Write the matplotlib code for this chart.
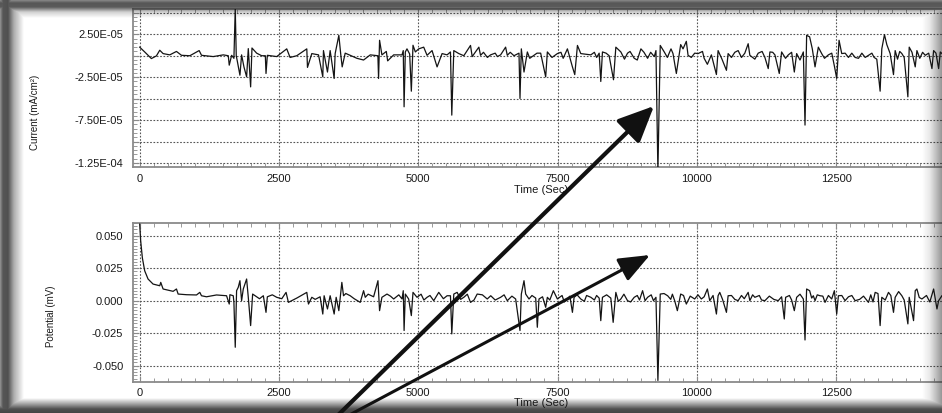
import numpy as np
import matplotlib
matplotlib.use("Agg")
import matplotlib.pyplot as plt
from matplotlib.ticker import MultipleLocator

plt.rcParams['font.family'] = ['Liberation Sans', 'DejaVu Sans']

# ---------------- data ----------------
# Current, in units of 1e-5 mA/cm^2
time_cur = [0, 90, 210, 300, 360, 420, 540, 660, 750, 900, 1067, 1110, 1320, 1500, 1590, 1607,
            1650, 1691, 1715, 1733, 1751, 1799, 1829, 1871, 1919, 1949, 1991, 2015, 2099, 2189,
            2255, 2267, 2291, 2459, 2639, 2699, 2819, 2999, 3011, 3089, 3209, 3286, 3298, 3370,
            3418, 3490, 3508, 3574, 3610, 3634, 3688, 3778, 3898, 4018, 4138, 4275, 4287, 4305,
            4347, 4426, 4450, 4558, 4708, 4730, 4745, 4767, 4797, 4845, 4875, 4905, 4947, 5007,
            5097, 5157, 5247, 5337, 5427, 5517, 5577, 5601, 5637, 5727, 5817, 5937, 5967, 6087,
            6117, 6170, 6240, 6297, 6380, 6420, 6477, 6567, 6597, 6650, 6717, 6807, 6825, 6849,
            6897, 6957, 7000, 7077, 7130, 7196, 7286, 7316, 7400, 7496, 7560, 7600, 7676, 7736,
            7766, 7808, 7856, 7916, 8096, 8160, 8200, 8246, 8275, 8305, 8370, 8425, 8503, 8545,
            8635, 8700, 8755, 8800, 8875, 8930, 8995, 9050, 9115, 9170, 9235, 9265, 9300, 9342,
            9414, 9470, 9535, 9571, 9631, 9709, 9751, 9810, 9841, 9900, 9960, 10021, 10100,
            10130, 10188, 10260, 10350, 10380, 10450, 10530, 10560, 10620, 10680, 10740, 10800,
            10860, 10920, 10950, 11040, 11100, 11170, 11220, 11280, 11310, 11360, 11400, 11478,
            11520, 11590, 11640, 11700, 11748, 11790, 11850, 11910, 11940, 11969, 12023, 12071,
            12120, 12179, 12239, 12290, 12359, 12420, 12467, 12509, 12551, 12599, 12660, 12720,
            12780, 12839, 12900, 12960, 13020, 13079, 13140, 13180, 13228, 13288, 13318, 13366,
            13408, 13468, 13528, 13558, 13600, 13640, 13678, 13720, 13786, 13810, 13860, 13918,
            13948, 14000, 14050, 14098, 14160, 14218, 14248, 14290, 14338, 14368, 14428, 14600,
            15000]
current_e5 = [1.0, 0.44, -0.33, -0.02, 0.64, 0.25, 0.1, 0.5, 0.05, 0.0, 0.6, 0.05, -0.1, 0.1, 0.0,
              -1.1, 0.05, -0.3, 5.5, 0.0, -0.6, -2.27, 0.1, -1.3, -2.46, 0.83, -3.63, 0.9, 0.3,
              0.0, 0.0, -2.07, 0.05, -0.1, 0.8, -0.2, 0.0, 0.8, -1.36, 0.25, 0.1, -2.46, 0.6,
              -1.9, 0.6, -2.65, 0.25, 2.38, 0.05, -1.3, 0.3, 0.05, -0.3, -0.5, 0.1, 0.0, -2.65,
              1.8, 0.1, 0.5, -0.6, 0.1, 0.1, 0.6, -5.95, 0.44, 0.8, 0.2, -4.13, 1.22, 0.44, 0.8,
              1.0, 0.05, 0.6, -1.3, 0.25, 0.1, 0.44, -6.92, 0.6, 0.25, 0.0, 1.2, -0.1, 1.0,
              0.05, 0.4, -0.2, 0.1, 0.3, -0.1, 0.1, 1.0, 0.05, 0.4, 0.0, 0.3, -4.98, 0.8,
              -1.9, 0.44, -0.3, 0.05, 0.3, 0.3, -2.46, 0.44, -0.2, 0.25, 0.4, -0.3, 0.8, -0.6,
              -1.3, -2.2, 1.2, 0.25, 0.1, 0.4, -0.2, 0.3, -3.0, 0.44, 0.3, 0.0, -2.8, 1.0,
              0.44, -0.4, 0.3, 0.5, -0.3, -0.5, 0.8, 0.4, -0.3, 0.4, -0.1, 0.6, -13.5, 1.2,
              0.44, -0.2, 0.8, 0.25, -2.07, 1.3, 0.8, 1.68, 0.05, -0.2, 0.3, 0.25, 0.5,
              -0.3, -1.0, 0.1, -2.19, 0.6, -0.4, -1.7, 0.25, -0.2, 0.4, 0.6, -0.2,
              0.3, 1.4, 0.05, -0.4, 0.3, 0.5, -0.2, -1.5, 0.44, 0.4, 0.1, -2.07,
              0.44, -0.3, 0.1, 0.4, -1.9, 0.25, -0.5, 0.44, -8.08, 2.38, 2.2, 0.8,
              -1.3, 1.0, 0.25, -0.3, 0.1, 0.3, -1.2, -2.65, 1.8, 0.25, 0.3, -0.2,
              0.3, -0.2, -0.3, 0.3, -0.2, 0.05, 0.3, -0.2, -0.4, -4.13, 0.8, 2.46,
              1.3, 0.25, -2.2, 0.6, -0.4, 0.5, 0.25, -0.2, -4.79, 1.0, 0.4, -1.3,
              0.6, -0.3, 0.4, 0.05, 0.3, -1.5, 0.6, 0.3, -1.5, 0.44, 0.05, 0.2,
              0.1]

# Potential, in units of 1e-3 mV
time_pot = [0, 18, 48, 90, 150, 240, 360, 378, 420, 600, 660, 690, 840, 1020, 1079, 1109, 1199,
            1379, 1559, 1607, 1619, 1679, 1691, 1715, 1739, 1769, 1799, 1829, 1859, 1919, 1949,
            1991, 2027, 2099, 2150, 2219, 2267, 2291, 2380, 2459, 2550, 2627, 2669, 2729, 2819,
            2900, 2999, 3029, 3089, 3150, 3238, 3286, 3310, 3370, 3418, 3490, 3526, 3574, 3628,
            3658, 3700, 3778, 3850, 3958, 4018, 4048, 4100, 4198, 4276, 4305, 4347, 4438, 4500,
            4558, 4650, 4708, 4730, 4745, 4767, 4827, 4875, 4905, 4977, 5050, 5100, 5157, 5210,
            5277, 5367, 5450, 5517, 5577, 5601, 5637, 5697, 5760, 5817, 5880, 5937, 6000, 6057,
            6150, 6237, 6300, 6380, 6477, 6540, 6597, 6680, 6747, 6825, 6849, 6897, 6927, 6987,
            7040, 7107, 7136, 7166, 7230, 7286, 7316, 7360, 7424, 7496, 7580, 7620, 7676, 7720,
            7766, 7796, 7850, 7916, 7980, 8020, 8096, 8160, 8200, 8246, 8275, 8305, 8380, 8455,
            8497, 8545, 8590, 8635, 8690, 8755, 8810, 8875, 8930, 8970, 9025, 9070, 9115, 9180,
            9220, 9265, 9300, 9342, 9410, 9475, 9530, 9560, 9601, 9649, 9709, 9760, 9810, 9880,
            9960, 10020, 10080, 10130, 10188, 10230, 10290, 10350, 10380, 10410, 10460, 10530,
            10560, 10620, 10680, 10740, 10800, 10850, 10920, 10950, 11000, 11040, 11120, 11160,
            11220, 11300, 11380, 11460, 11520, 11568, 11592, 11660, 11700, 11748, 11790, 11850,
            11910, 11940, 11969, 12023, 12060, 12089, 12120, 12160, 12209, 12260, 12299, 12360,
            12419, 12467, 12509, 12539, 12600, 12659, 12720, 12780, 12839, 12920, 12990, 13079,
            13120, 13160, 13199, 13250, 13288, 13318, 13380, 13438, 13480, 13528, 13558, 13620,
            13678, 13720, 13786, 13810, 13888, 13918, 13948, 13990, 14038, 14120, 14180, 14248,
            14308, 14338, 14400, 14428, 14600, 15000]
potential_e3 = [59, 46, 33, 23, 16.7, 12.8, 11.5, 14.1, 9, 7.2, 9, 5.1, 4.6, 4.4, 6.4, 3.8, 3.0,
                4.4, 3.8, -2.6, 4.6, 3.8, -1.3, -35.9, 7.7, 10.3, 15.4, 0, 9, 16.7, 2.6,
                -19.2, 5.1, 3.0, 1.5, 3.8, -9.0, 3.0, 4.5, 2.6, 1.5, 6.4, -1.3, 0, 2.0,
                4.0, 6.4, -2.6, 2.6, 1.0, 3.0, -10.3, 3.8, -6.4, 3.8, -10.3, 2.6, -7.7, 14.1,
                3.8, 5.5, 3.8, 1.5, -1.3, 7.7, 2.6, 5.0, 3.0, 15.4, -7.7, 2.6, 5.1, 3.5,
                1.3, 4.5, 1.3, 7.7, -23, 5.1, 1.3, -11.5, 6.4, 2.6, 5.0, 0.5, 2.6, 4.0,
                0, 6.4, 1.5, 3.8, 3.8, -25.6, 5.1, 6.4, 1.0, 2.6, 5.0, -1.3, 0.5, 5.1,
                4.5, 1.3, 3.8, 0.5, 2.6, 4.5, 0, 3.5, 1.3, -23, 5.1, 15.4, 5.1, 1.3,
                4.0, 2.0, -20.5, 1.3, 3.0, -5.1, 2.6, 0.5, 7.7, 1.3, 4.0, -1.0, 1.3, 3.5,
                -9.0, 2.6, 4.5, 1.3, -0.5, 4.0, 2.6, 0.5, 4.0, 2.0, -15.4, 2.6, 4.5, 2.0,
                -16.7, 6.4, -0.5, 1.3, 5.0, 0, -1.0, 2.6, 4.0, 0.5, 7.7, 0, 2.6, 4.5,
                0, 2.6, -61.5, 5.1, 5.5, 3.8, 1.0, 5.0, 0, -7.7, 5.1, 4.0, -2.6, 3.5,
                1.3, 4.5, 1.3, 3.0, 9, 0, 4.0, -10.3, 3.8, 6.4, 1.0, -9.0,
                3.8, 4.0, 1.0, 0, 4.0, 1.5, 6.4, 0, 4.5, 2.6, 4.0, 0.5,
                0, 3.5, 1.0, 0, 3.0, -14.1, 2.6, 4.0, 0.5, -7.7, 2.6, 5.0,
                1.3, -30.3, 9, 7.7, 2.0, 3.8, 0, 4.5, 3.8, 3.5, -1.3, 4.0,
                1.3, 7.7, -10.3, 3.8, 4.0, 0, 3.0, 4.0, 0, 1.0, 3.5, -1.3,
                4.5, -1.0, 6.4, 5.5, -19.2, 2.6, 0.5, 6.4, 4.0, -9.0, 2.6, 7.0,
                3.8, 0.5, -17.9, 2.6, -15.4, 7.7, 9, 2.5, 1.3, 4.0, -1.0, 9,
                -6.4, 0, 4.0, 0, 1.3, 1.0]

cur_ticks = [-1.25e-4, -1.0e-4, -7.5e-5, -5.0e-5, -2.5e-5, 0.0, 2.5e-5, 5.0e-5]
cur_labels = ['-1.25E-04', '', '-7.50E-05', '', '-2.50E-05', '', '2.50E-05', '']
pot_ticks = [-0.05, -0.025, 0.0, 0.025, 0.05]
pot_labels = ['-0.050', '-0.025', '0.000', '0.025', '0.050']
time_ticks = [0, 2500, 5000, 7500, 10000, 12500]
time_labels = ['0', '2500', '5000', '7500', '10000', '12500']

# ---------------- figure ----------------
W, H = 942, 413
fig = plt.figure(figsize=(W / 100, H / 100), dpi=100)
fig.patch.set_facecolor('white')


def px_axes(l, t, r, b):
    return fig.add_axes([l / W, 1 - b / H, (r - l) / W, (b - t) / H])


ax1 = px_axes(133, 9.3, 987, 166.7)
ax2 = px_axes(133, 222.7, 987, 381.5)

t1 = np.array(time_cur)
c1 = np.array(current_e5) * 1e-5
o1 = np.argsort(t1, kind='stable')
ax1.plot(t1[o1], c1[o1], color='#141414', lw=0.9, zorder=3)

t2 = np.array(time_pot)
p2 = np.array(potential_e3) * 1e-3
o2 = np.argsort(t2, kind='stable')
ax2.plot(t2[o2], p2[o2], color='#141414', lw=0.9, zorder=3)

ax1.set_ylim(-1.293e-4, 5.41e-5)
ax2.set_ylim(-0.0623, 0.0601)

for ax, yt, yl, yminor in ((ax1, cur_ticks, cur_labels, 5e-6),
                           (ax2, pot_ticks, pot_labels, 0.0025)):
    ax.set_xlim(-120, 15206)
    ax.set_xticks(time_ticks, labels=time_labels)
    ax.xaxis.set_minor_locator(MultipleLocator(250))
    ax.set_yticks(yt, labels=yl)
    ax.yaxis.set_minor_locator(MultipleLocator(yminor))
    ax.grid(True, which='major', color='#555555', lw=0.8, linestyle=(0, (1.5, 1.5)))
    ax.set_axisbelow(True)
    for s in ax.spines.values():
        s.set_color('#8a8a8a')
        s.set_linewidth(1.3)
    ax.tick_params(which='both', direction='in', top=True, right=False, color='#8a8a8a')
    ax.tick_params(which='major', length=4, width=0.8)
    ax.tick_params(which='minor', length=3, width=0.6)
    ax.tick_params(axis='x', which='major', pad=5, labelsize=8, labelcolor='#1a1a1a')
    ax.tick_params(axis='y', which='major', pad=7, labelsize=8, labelcolor='#1a1a1a')
    ax.set_facecolor('white')

# axis titles
fig.text(35 / W, 1 - 112 / H, 'Current (mA/cm²)', rotation=90, ha='center', va='center',
         fontsize=7, color='#1a1a1a')
fig.text(51 / W, 1 - 316 / H, 'Potential (mV)', rotation=90, ha='center', va='center',
         fontsize=7, color='#1a1a1a')
fig.text(541 / W, 1 - 190 / H, 'Time (Sec)', ha='center', va='center', fontsize=8, color='#1a1a1a')
fig.text(541 / W, 1 - 403 / H, 'Time (Sec)', ha='center', va='center', fontsize=8, color='#1a1a1a')

# ---------------- overlay: arrows and photo vignette ----------------
ov = fig.add_axes([0, 0, 1, 1], zorder=20)
ov.set_xlim(0, W)
ov.set_ylim(H, 0)
ov.axis('off')
ov.patch.set_alpha(0)

ov.annotate('', xy=(654, 106), xytext=(333, 420), annotation_clip=False,
            arrowprops=dict(arrowstyle='-|>,head_length=1.1,head_width=0.5', mutation_scale=20,
                            lw=3.0, color='#111111', shrinkA=0, shrinkB=0), zorder=3)
ov.annotate('', xy=(650, 255), xytext=(340, 420), annotation_clip=False,
            arrowprops=dict(arrowstyle='-|>,head_length=0.95,head_width=0.38', mutation_scale=20,
                            lw=2.2, color='#111111', shrinkA=0, shrinkB=0), zorder=3)

yy, xx = np.mgrid[0:H, 0:W] + 0.5
left = np.interp(xx, [0, 3, 8, 14, 24], [0.45, 0.72, 0.75, 0.35, 0.0])
top = np.interp(yy, [0, 3, 7, 12, 18], [0.5, 0.72, 0.7, 0.2, 0.0])
bot = np.interp(H - yy, [0, 4, 9, 15], [0.8, 0.75, 0.4, 0.0])
right = np.interp(W - xx, [0, 5, 12, 20], [0.45, 0.3, 0.1, 0.0])
alpha = np.maximum.reduce([left, top, bot, right])
rgba = np.zeros((H, W, 4))
rgba[..., :3] = 0.08
rgba[..., 3] = alpha
ov.imshow(rgba, extent=(0, W, H, 0), aspect='auto', zorder=5, interpolation='bilinear')

fig.savefig('out.png', dpi=100, facecolor='white')
